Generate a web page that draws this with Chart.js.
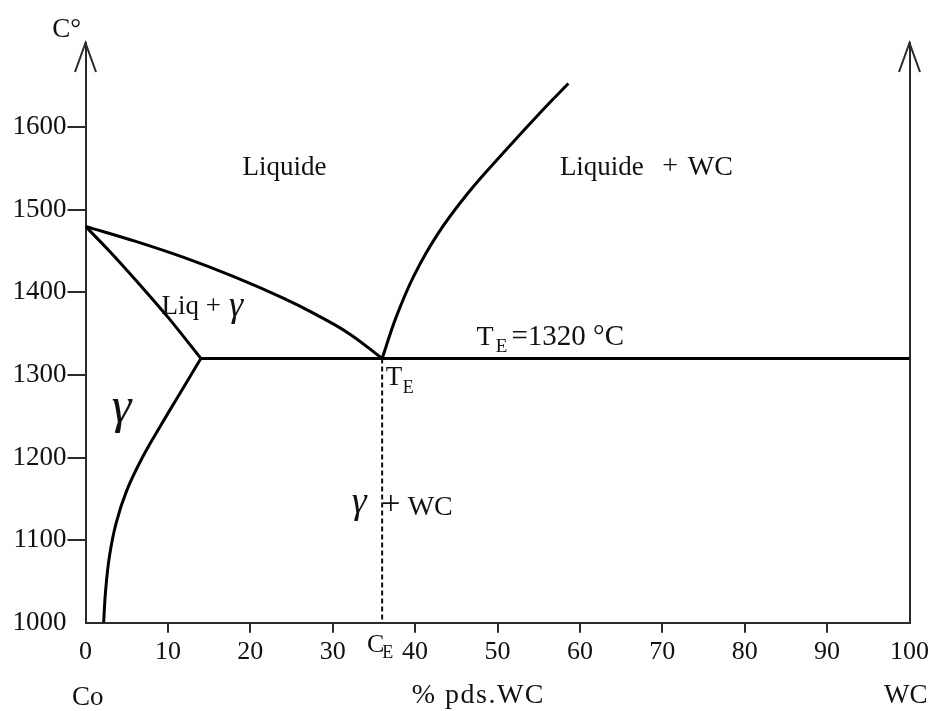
<!DOCTYPE html>
<html>
<head>
<meta charset="utf-8">
<script src="https://cdn.jsdelivr.net/npm/chart.js@4/dist/chart.umd.min.js"></script>
<style>
html,body{margin:0;padding:0;background:#fff;}
#wrap{width:933px;height:711px;}
</style>
</head>
<body>
<div id="wrap"><canvas id="c" width="933" height="711"></canvas></div>
<script>
// ---- data (x = % pds. WC, y = temperature °C) ----
const xTicks = [0, 10, 20, 30, 40, 50, 60, 70, 80, 90, 100];
const yTicks = [1000, 1100, 1200, 1300, 1400, 1500, 1600];
const liquidusCo = [[0,1480],[6,1462],[12,1442],[18,1419],[24,1393],[28,1373],[32,1350],[36,1320]];
const solidus    = [[0,1480],[3,1449],[6,1416],[10,1370],[14,1320]];
const solvus     = [[2.2,1000],[2.45,1040],[2.9,1080],[3.7,1120],[5.0,1160],[6.9,1200],[9.2,1240],[11.6,1280],[14,1320]];
const liquidusWC = [[36,1320],[37.7,1370],[39.85,1420],[42.7,1470],[46.4,1520],[50.8,1570],[55.4,1620],[58.6,1653]];
const eutectic   = [[14,1320],[100,1320]];
const ceLine     = [[36,1320],[36,1000]];
const yMax = 1702;

// ---- styling / layout ----
const FAM = "'Liberation Serif','Times New Roman',serif";
const INK = '#111';
const AXIS = '#2a2a2a';

function pts(a){ return a.map(p => ({x:p[0], y:p[1]})); }
function curve(a, t){ return {data:pts(a), showLine:true, borderColor:'#000', borderWidth:3, pointRadius:0, tension:t, fill:false}; }

// text annotations: [x, y (baseline), text, size, italic, letterSpacing]
const notes = [
  [19.04, 1542, 'Liquide', 27, false],
  [57.57, 1542, 'Liquide', 27, false],
  [70.0, 1543, '+', 28, false],
  [73.1, 1542, 'WC', 28, false],
  [9.21, 1374, 'Liq +', 27, false],
  [17.4, 1372, 'γ', 36, true],
  [3.2, 1243, 'γ', 50, true],
  [47.45, 1336, 'T', 28, false],
  [49.8, 1327.5, 'E', 19, false],
  [51.7, 1336, '=1320 °C', 29, false],
  [36.45, 1288, 'T', 27, false],
  [38.5, 1278, 'E', 18, false],
  [32.3, 1133, 'γ', 38, true],
  [35.9, 1132, '+', 34, false],
  [39.1, 1131, 'WC', 28, false],
  [34.15, 964.5, 'C', 26, false],
  [36.0, 957.3, 'E', 18, false],
  [-1.63, 900.5, 'Co', 27, false],
  [39.59, 902.5, '% pds.WC', 28, false, '1.5px'],
  [96.9, 902.5, 'WC', 27, false],
  [-4.05, 1709, 'C°', 27, false]
];

const decor = {
  id: 'decor',
  afterDraw(chart){
    const ctx = chart.ctx, xs = chart.scales.x, ys = chart.scales.y;
    const {left, right, top} = chart.chartArea;
    ctx.save();
    ctx.strokeStyle = AXIS; ctx.lineWidth = 2; ctx.lineJoin = 'miter';
    [left, right].forEach(x => {
      ctx.beginPath();
      ctx.moveTo(x - 10.5, top + 29);
      ctx.lineTo(x, top);
      ctx.lineTo(x + 10.5, top + 29);
      ctx.stroke();
    });
    ctx.fillStyle = INK;
    ctx.textBaseline = 'alphabetic';
    ctx.textAlign = 'left';
    notes.forEach(n => {
      ctx.font = (n[4] ? 'italic ' : '') + n[3] + 'px ' + FAM;
      if ('letterSpacing' in ctx) ctx.letterSpacing = n[5] || '0px';
      ctx.fillText(n[2], xs.getPixelForValue(n[0]), ys.getPixelForValue(n[1]));
    });
    ctx.restore();
  }
};

new Chart(document.getElementById('c'), {
  type: 'scatter',
  data: {
    datasets: [
      curve(liquidusCo, 0.4),
      curve(solidus, 0.3),
      curve(solvus, 0.4),
      curve(liquidusWC, 0.4),
      {data:pts(eutectic), showLine:true, borderColor:'#000', borderWidth:3, pointRadius:0},
      {data:pts(ceLine), showLine:true, borderColor:'#111', borderWidth:2, borderDash:[5,3], pointRadius:0}
    ]
  },
  options: {
    responsive: false,
    animation: false,
    devicePixelRatio: 1,
    layout: {padding: {top: 43, left: 0, right: 0, bottom: 0}},
    plugins: {legend: {display: false}, tooltip: {enabled: false}},
    scales: {
      x: {
        type: 'linear', min: 0, max: 100,
        afterBuildTicks: s => { s.ticks = xTicks.map(v => ({value: v})); },
        afterFit: s => { s.height = 88.3; },
        grid: {drawOnChartArea: false, drawTicks: true, tickLength: 10, lineWidth: 2,
               color: c => (c.tick && (c.tick.value === 0 || c.tick.value === 100)) ? 'rgba(0,0,0,0)' : AXIS},
        border: {display: true, color: AXIS, width: 2},
        ticks: {color: INK, font: {family: FAM, size: 26}, padding: 4, maxRotation: 0, autoSkip: false,
                callback: v => String(v)}
      },
      y: {
        type: 'linear', min: 1000, max: yMax,
        afterBuildTicks: s => { s.ticks = yTicks.map(v => ({value: v})); },
        afterFit: s => { s.width = 85.5; },
        grid: {drawOnChartArea: false, drawTicks: true, tickLength: 18, lineWidth: 2,
               color: c => (c.tick && c.tick.value === 1000) ? 'rgba(0,0,0,0)' : AXIS},
        border: {display: true, color: AXIS, width: 2},
        ticks: {color: INK, font: {family: FAM, size: 27}, padding: 1, autoSkip: false,
                callback: v => String(v)}
      },
      y2: {
        type: 'linear', position: 'right', min: 1000, max: yMax,
        afterFit: s => { s.width = 20.3; },
        grid: {display: false, drawTicks: false},
        border: {display: true, color: AXIS, width: 2},
        ticks: {display: false}
      }
    }
  },
  plugins: [decor]
});
</script>
</body>
</html>
